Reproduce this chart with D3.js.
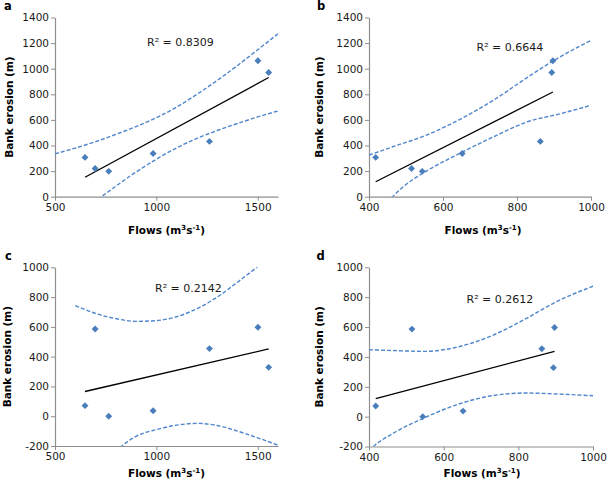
<!DOCTYPE html>
<html>
<head>
<meta charset="utf-8">
<script src="https://cdn.jsdelivr.net/npm/d3@7/dist/d3.min.js"></script>
<style>
  html, body { margin: 0; padding: 0; background: #ffffff; }
  svg { display: block; }
</style>
</head>
<body>
<svg id="chart" width="608" height="482"></svg>
<script>
// ---------------- data ----------------
const flowsAC = [648, 698, 765, 984, 1262, 1501, 1554];
const flowsBD = [418, 515, 544, 652, 863, 897, 894];
const erosionAB = [307, 221, 198, 338, 432, 1062, 971];
const erosionCD = [71, 586, 0, 37, 454, 597, 328];

const r2Labels = ["R² = 0.8309", "R² = 0.6644", "R² = 0.2142", "R² = 0.2612"];
const panelLetters = ["a", "b", "c", "d"];

// regression line end values (at min and max flow)
const trendA = [152, 931];
const trendB = [117, 818];
const trendC = [166, 452];
const trendD = [120, 437];

// confidence band curves
const bandAx = [500, 600, 700, 800, 900, 1000, 1100, 1200, 1300, 1400, 1500, 1600];
const upperA = [335, 380, 430, 487, 548, 617, 700, 800, 908, 1025, 1148, 1273];
const lowerA = [-280, -157, -35, 82, 193, 293, 382, 455, 517, 572, 623, 670];

const upperBx = [400, 464, 555, 645, 736, 827, 900, 1000];
const upperB = [325, 390, 481, 603, 753, 930, 1065, 1221];
const lowerBx = [440, 464, 500, 555, 645, 736, 827, 918, 1000];
const lowerB = [-80, 0, 95, 200, 338, 467, 584, 649, 714];

const upperCx = [600, 700, 800, 900, 1000, 1100, 1200, 1300, 1400, 1500, 1600];
const upperC = [743, 690, 655, 637, 642, 668, 722, 800, 900, 1005, 1117];
const lowerCx = [800, 830, 900, 1000, 1100, 1200, 1300, 1400, 1500, 1600];
const lowerC = [-240, -200, -135, -90, -60, -48, -62, -100, -145, -195];

const bandDx = [400, 461, 550, 640, 729, 819, 908, 1000];
const upperD = [448, 443, 437, 468, 542, 654, 777, 873];
const lowerDx = [400, 412, 461, 550, 640, 729, 819, 908, 1000];
const lowerD = [-230, -200, -117, -6, 84, 140, 158, 151, 140];

// axis ticks
const xTicksAC = [500, 1000, 1500];
const xTicksBD = [400, 600, 800, 1000];
const yTicksAB = [0, 200, 400, 600, 800, 1000, 1200, 1400];
const yTicksCD = [-200, 0, 200, 400, 600, 800, 1000];

// ---------------- layout ----------------
const zip = (xs, ys) => xs.map((x, i) => [x, ys[i]]);

const panels = [
  { letter: panelLetters[0], r2: r2Labels[0], flows: flowsAC, erosion: erosionAB, trend: trendA,
    upper: zip(bandAx, upperA), lower: zip(bandAx, lowerA),
    xDom: [500, 1600], yDom: [0, 1400], xTicks: xTicksAC, yTicks: yTicksAB,
    px: [55, 278], py: [196.7, 17.5], letterPos: [4, 9.5], r2Pos: [147, 46],
    yLabelX: 12.5, xLabelX: 166.5, xLabelY: 234 },
  { letter: panelLetters[1], r2: r2Labels[1], flows: flowsBD, erosion: erosionAB, trend: trendB,
    upper: zip(upperBx, upperB), lower: zip(lowerBx, lowerB),
    xDom: [400, 1000], yDom: [0, 1400], xTicks: xTicksBD, yTicks: yTicksAB,
    px: [369, 591], py: [196.7, 17.5], letterPos: [317, 9.5], r2Pos: [476.5, 51],
    yLabelX: 323, xLabelX: 483, xLabelY: 234 },
  { letter: panelLetters[2], r2: r2Labels[2], flows: flowsAC, erosion: erosionCD, trend: trendC,
    upper: zip(upperCx, upperC), lower: zip(lowerCx, lowerC),
    xDom: [500, 1600], yDom: [-200, 1000], xTicks: xTicksAC, yTicks: yTicksCD,
    px: [55, 278], py: [446, 267.3], letterPos: [5, 259.5], r2Pos: [155, 291.5],
    yLabelX: 11, xLabelX: 166.5, xLabelY: 477 },
  { letter: panelLetters[3], r2: r2Labels[3], flows: flowsBD, erosion: erosionCD, trend: trendD,
    upper: zip(bandDx, upperD), lower: zip(lowerDx, lowerD),
    xDom: [400, 1000], yDom: [-200, 1000], xTicks: xTicksBD, yTicks: yTicksCD,
    px: [369, 593], py: [446.5, 267.3], letterPos: [316.5, 260], r2Pos: [466.5, 302.5],
    yLabelX: 323, xLabelX: 482, xLabelY: 477 }
];

const svg = d3.select("#chart");
const axisColor = "#8f8f8f";
const textColor = "#1a1a1a";
const markerColor = "#4a7ebb";
const bandColor = "#4f86cc";
const tickFont = "'DejaVu Sans', sans-serif";

panels.forEach((p, i) => {
  const x = d3.scaleLinear().domain(p.xDom).range(p.px);
  const y = d3.scaleLinear().domain(p.yDom).range(p.py);
  const g = svg.append("g");

  const clipId = "clip" + i;
  svg.append("clipPath").attr("id", clipId).append("rect")
    .attr("x", p.px[0]).attr("y", p.py[1])
    .attr("width", p.px[1] - p.px[0]).attr("height", p.py[0] - p.py[1]);

  // axes
  const yAxis = d3.axisLeft(y).tickValues(p.yTicks).tickSize(4).tickSizeOuter(0)
    .tickPadding(2).tickFormat(d => String(d));
  const xAxis = d3.axisBottom(x).tickValues(p.xTicks).tickSize(4).tickSizeOuter(0)
    .tickPadding(3).tickFormat(d => String(d));

  const ya = g.append("g").attr("transform", `translate(${p.px[0]},0)`).call(yAxis);
  const xa = g.append("g").attr("transform", `translate(0,${p.py[0]})`).call(xAxis);
  [ya, xa].forEach(a => {
    a.select(".domain").attr("stroke", axisColor).attr("stroke-width", 1.2);
    a.selectAll(".tick line").attr("stroke", axisColor).attr("stroke-width", 1);
    a.selectAll(".tick text").attr("fill", textColor)
      .style("font-family", tickFont).style("font-size", "10.5px");
  });

  // confidence bands
  const line = d3.line().x(d => x(d[0])).y(d => y(d[1])).curve(d3.curveMonotoneX);
  const bands = g.append("g").attr("clip-path", `url(#${clipId})`);
  [p.upper, p.lower].forEach(b => {
    bands.append("path").attr("d", line(b)).attr("fill", "none")
      .attr("stroke", bandColor).attr("stroke-width", 1.4)
      .attr("stroke-dasharray", "4,2");
  });

  // regression line
  const ext = d3.extent(p.flows);
  g.append("path")
    .attr("d", d3.line().x(d => x(d[0])).y(d => y(d[1]))(zip(ext, p.trend)))
    .attr("stroke", "#000").attr("stroke-width", 1.3).attr("fill", "none");

  // points
  const sym = d3.symbol().type(d3.symbolSquare).size(24);
  g.selectAll(".pt").data(zip(p.flows, p.erosion)).join("path")
    .attr("class", "pt")
    .attr("d", sym)
    .attr("transform", d => `translate(${x(d[0])},${y(d[1])}) rotate(45)`)
    .attr("fill", markerColor);

  // R² label
  g.append("text").attr("x", p.r2Pos[0]).attr("y", p.r2Pos[1])
    .attr("fill", textColor).style("font-family", tickFont).style("font-size", "11px")
    .text(p.r2);

  // panel letter
  g.append("text").attr("x", p.letterPos[0]).attr("y", p.letterPos[1])
    .attr("fill", "#000").style("font-family", tickFont).style("font-size", "11.5px")
    .style("font-weight", "bold").text(p.letter);

  // y title
  const cy = (p.py[0] + p.py[1]) / 2;
  g.append("text")
    .attr("transform", `translate(${p.yLabelX},${cy}) rotate(-90)`)
    .attr("text-anchor", "middle").attr("fill", "#000")
    .style("font-family", tickFont).style("font-size", "10.5px").style("font-weight", "bold")
    .text("Bank erosion (m)");

  // x title
  const xt = g.append("text").attr("x", p.xLabelX).attr("y", p.xLabelY)
    .attr("text-anchor", "middle").attr("fill", "#000")
    .style("font-family", tickFont).style("font-size", "10.5px").style("font-weight", "bold");
  xt.append("tspan").text("Flows (m");
  xt.append("tspan").attr("dy", -4).style("font-size", "7px").text("3");
  xt.append("tspan").attr("dy", 4).text("s");
  xt.append("tspan").attr("dy", -4).style("font-size", "7px").text("-1");
  xt.append("tspan").attr("dy", 4).text(")");
});
</script>
</body>
</html>
